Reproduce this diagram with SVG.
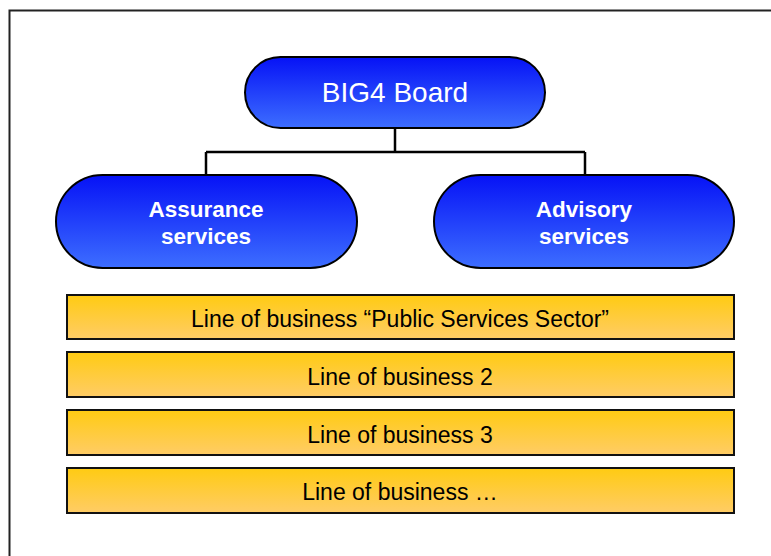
<svg xmlns="http://www.w3.org/2000/svg" width="771" height="556" viewBox="0 0 771 556">
  <defs>
    <linearGradient id="blueFill" x1="0" y1="0" x2="0" y2="1">
      <stop offset="0" stop-color="#0612F6"/>
      <stop offset="1" stop-color="#3D6EFF"/>
    </linearGradient>
    <linearGradient id="goldFill" x1="0" y1="0" x2="0" y2="1">
      <stop offset="0" stop-color="#FFCB12"/>
      <stop offset="1" stop-color="#FFCC66"/>
    </linearGradient>
    <style>
      .pill { fill: url(#blueFill); stroke: #000; stroke-width: 2; }
      .bar { fill: url(#goldFill); stroke: #111; stroke-width: 2; }
      .link { fill: none; stroke: #000; stroke-width: 2.5; }
      .head { font-family: "Liberation Sans", Arial, sans-serif; font-size: 28px; fill: #fff; text-anchor: middle; }
      .unit { font-family: "Liberation Sans", Arial, sans-serif; font-size: 22.5px; font-weight: bold; fill: #fff; text-anchor: middle; }
      .line { font-family: "Liberation Sans", Arial, sans-serif; font-size: 23px; fill: #000; text-anchor: middle; }
    </style>
  </defs>
  <rect width="771" height="556" fill="#fff"/>
  <!-- page frame -->
  <rect x="9.5" y="10.5" width="800" height="600" fill="none" stroke="#222" stroke-width="2"/>

  <g id="connectors">
    <path class="link" d="M395 128 V152 M206 152 H585 M206 152 V175 M585 152 V175"/>
  </g>

  <g id="board">
    <rect class="pill" x="245" y="57" width="300" height="71" rx="35.5"/>
    <text class="head" x="395" y="102">BIG4 Board</text>
  </g>

  <g id="assurance">
    <rect class="pill" x="56" y="175" width="301" height="93" rx="46.5"/>
    <text class="unit" x="206" y="217">Assurance</text>
    <text class="unit" x="206" y="244">services</text>
  </g>

  <g id="advisory">
    <rect class="pill" x="434" y="175" width="300" height="93" rx="46.5"/>
    <text class="unit" x="584" y="217">Advisory</text>
    <text class="unit" x="584" y="244">services</text>
  </g>

  <g id="lob-public">
    <rect class="bar" x="67" y="295" width="667" height="44"/>
    <text class="line" x="400" y="327">Line of business “Public Services Sector”</text>
  </g>
  <g id="lob-2">
    <rect class="bar" x="67" y="352" width="667" height="45"/>
    <text class="line" x="400" y="385">Line of business 2</text>
  </g>
  <g id="lob-3">
    <rect class="bar" x="67" y="410" width="667" height="45"/>
    <text class="line" x="400" y="443">Line of business 3</text>
  </g>
  <g id="lob-more">
    <rect class="bar" x="67" y="468" width="667" height="45"/>
    <text class="line" x="400" y="500">Line of business …</text>
  </g>
</svg>
